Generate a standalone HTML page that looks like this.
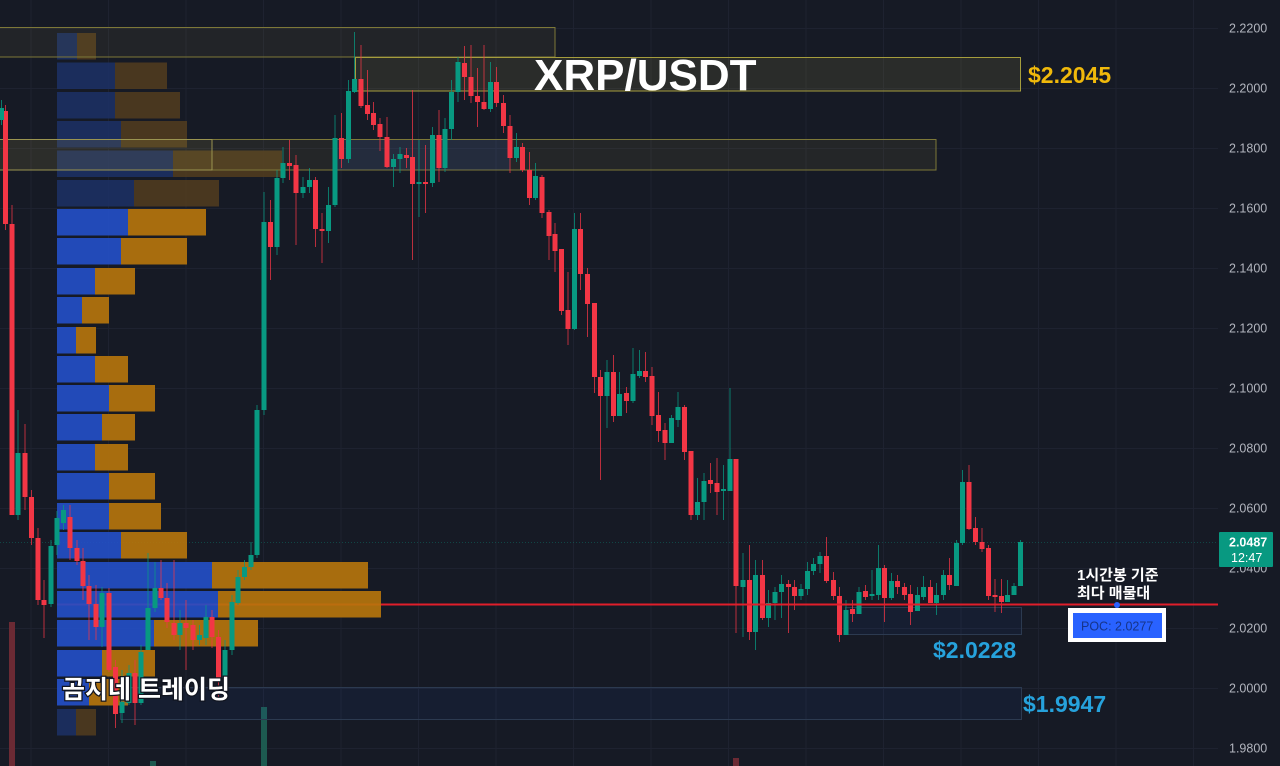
<!DOCTYPE html>
<html>
<head>
<meta charset="utf-8">
<style>
html,body{margin:0;padding:0;background:#161a25;}
svg{display:block;}
.ax{font-family:"Liberation Sans",sans-serif;font-size:12.5px;fill:#b2b5be;}
</style>
</head>
<body>
<svg width="1280" height="766" viewBox="0 0 1280 766" xmlns="http://www.w3.org/2000/svg">
<rect x="0" y="0" width="1280" height="766" fill="#161a25"/>
<!-- grid -->
<g stroke="#1e2230" stroke-width="1">
<path d="M31 0V766M108.5 0V766M186 0V766M263.5 0V766M341 0V766M418.5 0V766M496 0V766M573.5 0V766M651 0V766M728.5 0V766M806 0V766M883.5 0V766M961 0V766M1038.5 0V766M1116 0V766M1193.5 0V766"/>
<path d="M0 28.5H1218M0 88.5H1218M0 148.5H1218M0 208.5H1218M0 268.5H1218M0 328.5H1218M0 388.5H1218M0 448.5H1218M0 508.5H1218M0 568.5H1218M0 628.5H1218M0 688.5H1218M0 748.5H1218"/>
</g>
<!-- current price dotted line -->
<path d="M0 542.5H1218" stroke="#089981" stroke-opacity="0.35" stroke-dasharray="1 2"/>
<!-- volume bars -->
<rect x="9" y="622" width="6" height="144" fill="#6b2a34"/>
<rect x="261" y="707" width="6" height="59" fill="#1d5a50"/>
<rect x="150" y="761" width="6" height="5" fill="#1d5a50"/>
<rect x="733" y="758" width="6" height="8" fill="#6b2a34"/>
<!-- red POC line (under profile) -->
<rect x="57" y="603.5" width="1161" height="2" fill="#e01e2a"/>
<!-- volume profile -->
<g opacity="0.9">
<g fill="#1c3063">
<rect x="57" y="33" width="20" height="26.5"/>
<rect x="57" y="62.5" width="58" height="26.5"/>
<rect x="57" y="92" width="58" height="26.5"/>
<rect x="57" y="121" width="64" height="26.5"/>
<rect x="57" y="150.5" width="116" height="26.5"/>
<rect x="57" y="180" width="77" height="26.5"/>
<rect x="57" y="709" width="19" height="26.5"/>
</g>
<g fill="#4f3b1f">
<rect x="77" y="33" width="19" height="26.5"/>
<rect x="115" y="62.5" width="52" height="26.5"/>
<rect x="115" y="92" width="65" height="26.5"/>
<rect x="121" y="121" width="66" height="26.5"/>
<rect x="173" y="150.5" width="109" height="26.5"/>
<rect x="134" y="180" width="85" height="26.5"/>
<rect x="76" y="709" width="20" height="26.5"/>
</g>
<g fill="#2450c8">
<rect x="57" y="209" width="71" height="26.5"/>
<rect x="57" y="238" width="64" height="26.5"/>
<rect x="57" y="268" width="38" height="26.5"/>
<rect x="57" y="297" width="25" height="26.5"/>
<rect x="57" y="327" width="19" height="26.5"/>
<rect x="57" y="356" width="38" height="26.5"/>
<rect x="57" y="385" width="52" height="26.5"/>
<rect x="57" y="414" width="45" height="26.5"/>
<rect x="57" y="444" width="38" height="26.5"/>
<rect x="57" y="473" width="52" height="26.5"/>
<rect x="57" y="503" width="52" height="26.5"/>
<rect x="57" y="532" width="64" height="26.5"/>
<rect x="57" y="562" width="155" height="26.5"/>
<rect x="57" y="591" width="161" height="26.5"/>
<rect x="57" y="620" width="97" height="26.5"/>
<rect x="57" y="650" width="45" height="26.5"/>
<rect x="57" y="679" width="32" height="26.5"/>
</g>
<g fill="#b8760c">
<rect x="128" y="209" width="78" height="26.5"/>
<rect x="121" y="238" width="66" height="26.5"/>
<rect x="95" y="268" width="40" height="26.5"/>
<rect x="82" y="297" width="27" height="26.5"/>
<rect x="76" y="327" width="20" height="26.5"/>
<rect x="95" y="356" width="33" height="26.5"/>
<rect x="109" y="385" width="46" height="26.5"/>
<rect x="102" y="414" width="33" height="26.5"/>
<rect x="95" y="444" width="33" height="26.5"/>
<rect x="109" y="473" width="46" height="26.5"/>
<rect x="109" y="503" width="52" height="26.5"/>
<rect x="121" y="532" width="66" height="26.5"/>
<rect x="212" y="562" width="156" height="26.5"/>
<rect x="218" y="591" width="163" height="26.5"/>
<rect x="154" y="620" width="104" height="26.5"/>
<rect x="102" y="650" width="53" height="26.5"/>
<rect x="89" y="679" width="39" height="26.5"/>
</g>
</g>
<!-- boxes -->
<rect x="-1" y="27.5" width="556" height="29.5" fill="#b4aa50" fill-opacity="0.08" stroke="#7d7838" stroke-width="1"/>
<rect x="355.5" y="57.5" width="665" height="33.5" fill="#b4aa50" fill-opacity="0.13" stroke="#a59d3d" stroke-width="1"/>
<rect x="-1" y="139.5" width="937" height="30.5" fill="#b4aa50" fill-opacity="0.09" stroke="#7d7838" stroke-width="1"/>
<rect x="-1" y="139.5" width="213" height="30.5" fill="#b4aa50" fill-opacity="0.06" stroke="#9a9450" stroke-width="1"/>
<rect x="336" y="140" width="174" height="30" fill="#2962ff" fill-opacity="0.1"/>
<rect x="845.5" y="607.5" width="176" height="27" fill="#2962ff" fill-opacity="0.06" stroke="#2c3a50" stroke-width="1"/>
<rect x="120.5" y="687.5" width="901" height="32" fill="#2962ff" fill-opacity="0.06" stroke="#2c3a50" stroke-width="1"/>
<!-- wicks -->
<path stroke="#f23645" stroke-opacity="0.75" stroke-width="1" fill="none" d="M5.5 105V230M12 205V515M25 424V510M31.5 490V545M38 528V605M44 580V638M70 505V560M77 540V565M83 548V600M89 575V640M96 585V640M109 588V672M115.5 660V728M135 660V725M161 560V600M167 583V628M174 560V640M186 600V670M193 620V650M212 610V648M218.5 630V700M270.5 200V280M289.5 140V180M296 155V245M315.5 177V247M322 213V263M341.5 113V168M361 45V108M367.5 70V120M373.5 102V130M380 118V151M387 117V168M406.5 148V168M412.5 90V260M425.5 145V213M439 110V182M464.5 46V100M471 45V103M477.5 68V127M484 45V110M496.5 67V107M503.5 95V133M510 115V173M522.5 143V172M529.5 152V205M542 175V218M549 210V260M555 223V272M561.5 249V315M568 272V345M580.5 213V290M587.5 268V337M594.5 303V393M600.5 370V480M613.5 355V422M626.5 387V413M645.5 352V382M652 367V425M658.5 392V442M665 423V460M684.5 405V460M691 451V520M710.5 463V493M717 458V515M736 459V633M749.5 545V640M762.5 560V620M788.5 580V633M794.5 580V610M826.5 537V583M833.5 572V600M839.5 587V642M852.5 600V622M865.5 585V600M884.5 565V622M897.5 575V594M904.5 583V600M910.5 585V625M930.5 580V603M949.5 558V590M969 465V530M975.5 517V545M982 528V552M988.5 545V600M995 579V612M1001.5 579V613"/>
<path stroke="#089981" stroke-opacity="0.75" stroke-width="1" fill="none" d="M1.5 100V125M18 410V520M51 540V607M57 511V555M63.5 505V530M102 587V647M122 670V723M129 665V705M141 645V705M148 553V650M155 562V612M180 610V650M199.5 625V645M206 605V645M225 640V695M232 595V655M238 570V605M244.5 560V580M251 542V570M257 405V558M264 192V415M277 170V255M283 147V183M303 177V198M309.5 168V193M328.5 187V243M335 115V207M348.5 80V163M354.5 32V93M393.5 154V187M400 147V173M419 140V217M432.5 127V187M445 118V172M451.5 80V140M458 57V102M490.5 62V112M516.5 133V162M535.5 163V200M574.5 213V330M607 360V428M619.5 372V416M633 348V403M639.5 350V378M671.5 415V443M678 392V427M697.5 478V520M704 473V520M723.5 465V520M730 388V491M743 553V637M755.5 560V650M768.5 590V627M775 587V620M781.5 575V618M801 584V600M807.5 562V595M813.5 558V575M820 552V573M846 600V635M859 587V614M872 570V600M878.5 545V600M891.5 573V600M917.5 587V611M923.5 576V600M936.5 583V615M943.5 570V600M956.5 540V586M962.5 470V545M1007.5 580V602M1014 583V595M1020.5 540V586"/>
<!-- red bodies -->
<g fill="#f23645">
<rect x="3" y="111" width="5" height="113"/><rect x="9.5" y="224" width="5" height="291"/><rect x="22.5" y="453" width="5" height="44"/><rect x="29" y="497" width="5" height="41"/><rect x="35.5" y="538" width="5" height="62"/><rect x="41.5" y="600" width="5" height="5"/><rect x="67.5" y="517" width="5" height="31"/><rect x="74.5" y="548" width="5" height="13"/><rect x="80.5" y="561" width="5" height="25"/><rect x="86.5" y="586" width="5" height="18"/><rect x="93.5" y="604" width="5" height="23"/><rect x="106.5" y="593" width="5" height="77"/><rect x="113" y="667" width="5" height="47"/><rect x="132.5" y="673" width="5" height="30"/><rect x="158.5" y="588" width="5" height="10"/><rect x="164.5" y="598" width="5" height="24"/><rect x="171.5" y="623" width="5" height="12"/><rect x="183.5" y="623" width="5" height="5"/><rect x="190.5" y="625" width="5" height="15"/><rect x="209.5" y="617" width="5" height="20"/><rect x="216" y="637" width="5" height="41"/>
<rect x="268" y="222" width="5" height="25"/><rect x="287" y="163" width="5" height="3"/><rect x="293.5" y="165" width="5" height="28"/><rect x="313" y="180" width="5" height="49"/><rect x="319.5" y="229" width="5" height="2"/><rect x="339" y="138" width="5" height="21"/><rect x="358.5" y="79" width="5" height="27"/><rect x="365" y="105" width="5" height="9"/><rect x="371" y="113" width="5" height="12"/><rect x="377.5" y="124" width="5" height="13"/><rect x="384.5" y="137" width="5" height="30"/><rect x="404" y="155" width="5" height="3"/><rect x="410" y="157" width="5" height="27"/><rect x="423" y="182" width="5" height="2"/><rect x="436.5" y="135" width="5" height="33"/><rect x="462" y="63" width="5" height="14"/><rect x="468.5" y="77" width="5" height="19"/><rect x="475" y="96" width="5" height="6"/><rect x="481.5" y="102" width="5" height="7"/><rect x="494" y="82" width="5" height="21"/><rect x="501" y="103" width="5" height="23"/><rect x="507.5" y="126" width="5" height="32"/><rect x="520" y="147" width="5" height="23"/><rect x="527" y="170" width="5" height="28"/><rect x="539.5" y="177" width="5" height="36"/><rect x="546.5" y="212" width="5" height="24"/><rect x="552.5" y="234" width="5" height="17"/><rect x="559" y="249" width="5" height="62"/><rect x="565.5" y="310" width="5" height="19"/><rect x="578" y="229" width="5" height="45"/><rect x="585" y="274" width="5" height="30"/><rect x="592" y="303" width="5" height="74"/><rect x="598" y="377" width="5" height="19"/><rect x="611" y="372" width="5" height="44"/><rect x="624" y="393" width="5" height="8"/><rect x="643" y="371" width="5" height="6"/><rect x="649.5" y="376" width="5" height="40"/><rect x="656" y="415" width="5" height="16"/><rect x="662.5" y="430" width="5" height="13"/><rect x="682" y="407" width="5" height="45"/><rect x="688.5" y="451" width="5" height="64"/><rect x="708" y="480" width="5" height="4"/><rect x="714.5" y="483" width="5" height="9"/><rect x="733.5" y="459" width="5" height="127"/><rect x="747" y="580" width="5" height="52"/><rect x="760" y="575" width="5" height="43"/><rect x="786" y="584" width="5" height="3"/><rect x="792" y="587" width="5" height="9"/><rect x="824" y="556" width="5" height="25"/><rect x="831" y="580" width="5" height="16"/><rect x="837" y="596" width="5" height="39"/><rect x="850" y="609" width="5" height="5"/><rect x="863" y="591" width="5" height="6"/><rect x="882" y="568" width="5" height="30"/><rect x="895" y="581" width="5" height="6"/><rect x="902" y="587" width="5" height="8"/><rect x="908" y="594" width="5" height="18"/><rect x="928" y="587" width="5" height="16"/><rect x="947" y="575" width="5" height="10"/><rect x="966.5" y="482" width="5" height="47"/><rect x="973" y="528" width="5" height="14"/><rect x="979.5" y="542" width="5" height="7"/><rect x="986" y="548" width="5" height="48"/><rect x="992.5" y="595" width="5" height="2"/><rect x="999" y="596" width="5" height="6"/>
</g>
<!-- green bodies -->
<g fill="#089981">
<rect x="-1" y="108" width="5" height="12"/><rect x="15.5" y="453" width="5" height="62"/><rect x="48.5" y="546" width="5" height="58"/><rect x="54.5" y="518" width="5" height="27"/><rect x="61" y="510" width="5" height="13"/><rect x="99.5" y="593" width="5" height="34"/><rect x="119.5" y="702" width="5" height="11"/><rect x="126.5" y="673" width="5" height="30"/><rect x="138.5" y="652" width="5" height="51"/><rect x="145.5" y="608" width="5" height="42"/><rect x="152.5" y="588" width="5" height="20"/><rect x="177.5" y="623" width="5" height="12"/><rect x="197" y="635" width="5" height="5"/><rect x="203.5" y="617" width="5" height="21"/><rect x="222.5" y="650" width="5" height="28"/><rect x="229.5" y="602" width="5" height="48"/><rect x="235.5" y="577" width="5" height="26"/><rect x="242" y="567" width="5" height="10"/><rect x="248.5" y="555" width="5" height="12"/><rect x="254.5" y="410" width="5" height="145"/><rect x="261.5" y="222" width="5" height="188"/>
<rect x="274.5" y="178" width="5" height="69"/><rect x="280.5" y="163" width="5" height="15"/><rect x="300.5" y="187" width="5" height="6"/><rect x="307" y="180" width="5" height="7"/><rect x="326" y="205" width="5" height="26"/><rect x="332.5" y="138" width="5" height="67"/><rect x="346" y="91" width="5" height="68"/><rect x="352" y="79" width="5" height="13"/><rect x="391" y="159" width="5" height="8"/><rect x="397.5" y="154" width="5" height="5"/><rect x="416.5" y="182" width="5" height="2"/><rect x="430" y="135" width="5" height="48"/><rect x="442.5" y="129" width="5" height="39"/><rect x="449" y="92" width="5" height="37"/><rect x="455.5" y="62" width="5" height="30"/><rect x="488" y="82" width="5" height="27"/><rect x="514" y="147" width="5" height="11"/><rect x="533" y="176" width="5" height="22"/><rect x="572" y="229" width="5" height="100"/><rect x="604.5" y="372" width="5" height="24"/><rect x="617" y="394" width="5" height="22"/><rect x="630.5" y="374" width="5" height="27"/><rect x="637" y="371" width="5" height="5"/><rect x="669" y="418" width="5" height="25"/><rect x="675.5" y="407" width="5" height="13"/><rect x="695" y="502" width="5" height="13"/><rect x="701.5" y="481" width="5" height="21"/><rect x="721" y="489" width="5" height="2"/><rect x="727.5" y="459" width="5" height="32"/><rect x="740.5" y="580" width="5" height="7"/><rect x="753" y="575" width="5" height="57"/><rect x="766" y="603" width="5" height="15"/><rect x="772.5" y="592" width="5" height="11"/><rect x="779" y="584" width="5" height="8"/><rect x="798.5" y="589" width="5" height="7"/><rect x="805" y="571" width="5" height="18"/><rect x="811" y="564" width="5" height="7"/><rect x="817.5" y="556" width="5" height="8"/><rect x="843.5" y="610" width="5" height="25"/><rect x="856.5" y="592" width="5" height="22"/><rect x="869.5" y="594" width="5" height="2"/><rect x="876" y="568" width="5" height="27"/><rect x="889" y="581" width="5" height="17"/><rect x="915" y="595" width="5" height="16"/><rect x="921" y="587" width="5" height="10"/><rect x="934" y="595" width="5" height="8"/><rect x="941" y="575" width="5" height="20"/><rect x="954" y="543" width="5" height="43"/><rect x="960" y="482" width="5" height="61"/><rect x="1005" y="595" width="5" height="7"/><rect x="1011.5" y="586" width="5" height="9"/><rect x="1018" y="542" width="5" height="44"/>
</g>
<!-- red POC line on top (right part) -->
<rect x="381" y="603.5" width="837" height="2" fill="#e01e2a"/>
<circle cx="1117" cy="605" r="3" fill="#2962ff"/>
<!-- titles/labels -->
<text x="534" y="90" font-family="Liberation Sans, sans-serif" font-size="44" font-weight="bold" fill="#ffffff">XRP/USDT</text>
<text x="1028" y="83" font-family="Liberation Sans, sans-serif" font-size="23" font-weight="bold" fill="#f0b90b">$2.2045</text>
<text x="933" y="658" font-family="Liberation Sans, sans-serif" font-size="23" font-weight="bold" fill="#26a2dc">$2.0228</text>
<text x="1023" y="712" font-family="Liberation Sans, sans-serif" font-size="23" font-weight="bold" fill="#26a2dc">$1.9947</text>
<text x="62" y="698" font-family="Liberation Sans, 'Noto Sans CJK KR', sans-serif" font-size="25" font-weight="bold" fill="#ffffff" stroke="#111520" stroke-width="2.5" paint-order="stroke">곰지네 트레이딩</text>
<text x="1077" y="580" font-family="Liberation Sans, 'Noto Sans CJK KR', sans-serif" font-size="15" font-weight="bold" fill="#ffffff">1시간봉 기준</text>
<text x="1077" y="598" font-family="Liberation Sans, 'Noto Sans CJK KR', sans-serif" font-size="15" font-weight="bold" fill="#ffffff">최다 매물대</text>
<rect x="1068" y="608" width="98" height="34" fill="#ffffff"/>
<rect x="1073" y="613" width="89" height="25" fill="#2962ff"/>
<text x="1081" y="630.5" font-family="Liberation Sans, sans-serif" font-size="12.5" fill="#163489">POC: 2.0277</text>
<!-- axis labels -->
<text class="ax" x="1229" y="32.5">2.2200</text>
<text class="ax" x="1229" y="92.5">2.2000</text>
<text class="ax" x="1229" y="152.5">2.1800</text>
<text class="ax" x="1229" y="212.5">2.1600</text>
<text class="ax" x="1229" y="272.5">2.1400</text>
<text class="ax" x="1229" y="332.5">2.1200</text>
<text class="ax" x="1229" y="392.5">2.1000</text>
<text class="ax" x="1229" y="452.5">2.0800</text>
<text class="ax" x="1229" y="512.5">2.0600</text>
<text class="ax" x="1229" y="572.5">2.0400</text>
<text class="ax" x="1229" y="632.5">2.0200</text>
<text class="ax" x="1229" y="692.5">2.0000</text>
<text class="ax" x="1229" y="752.5">1.9800</text>
<rect x="1219" y="532" width="54" height="35" rx="1" fill="#089981"/>
<text x="1229" y="546.5" font-family="Liberation Sans, sans-serif" font-size="12.5" font-weight="bold" fill="#ffffff">2.0487</text>
<text x="1231" y="562" font-family="Liberation Sans, sans-serif" font-size="12.5" fill="#ffffff">12:47</text>
</svg>
</body>
</html>
